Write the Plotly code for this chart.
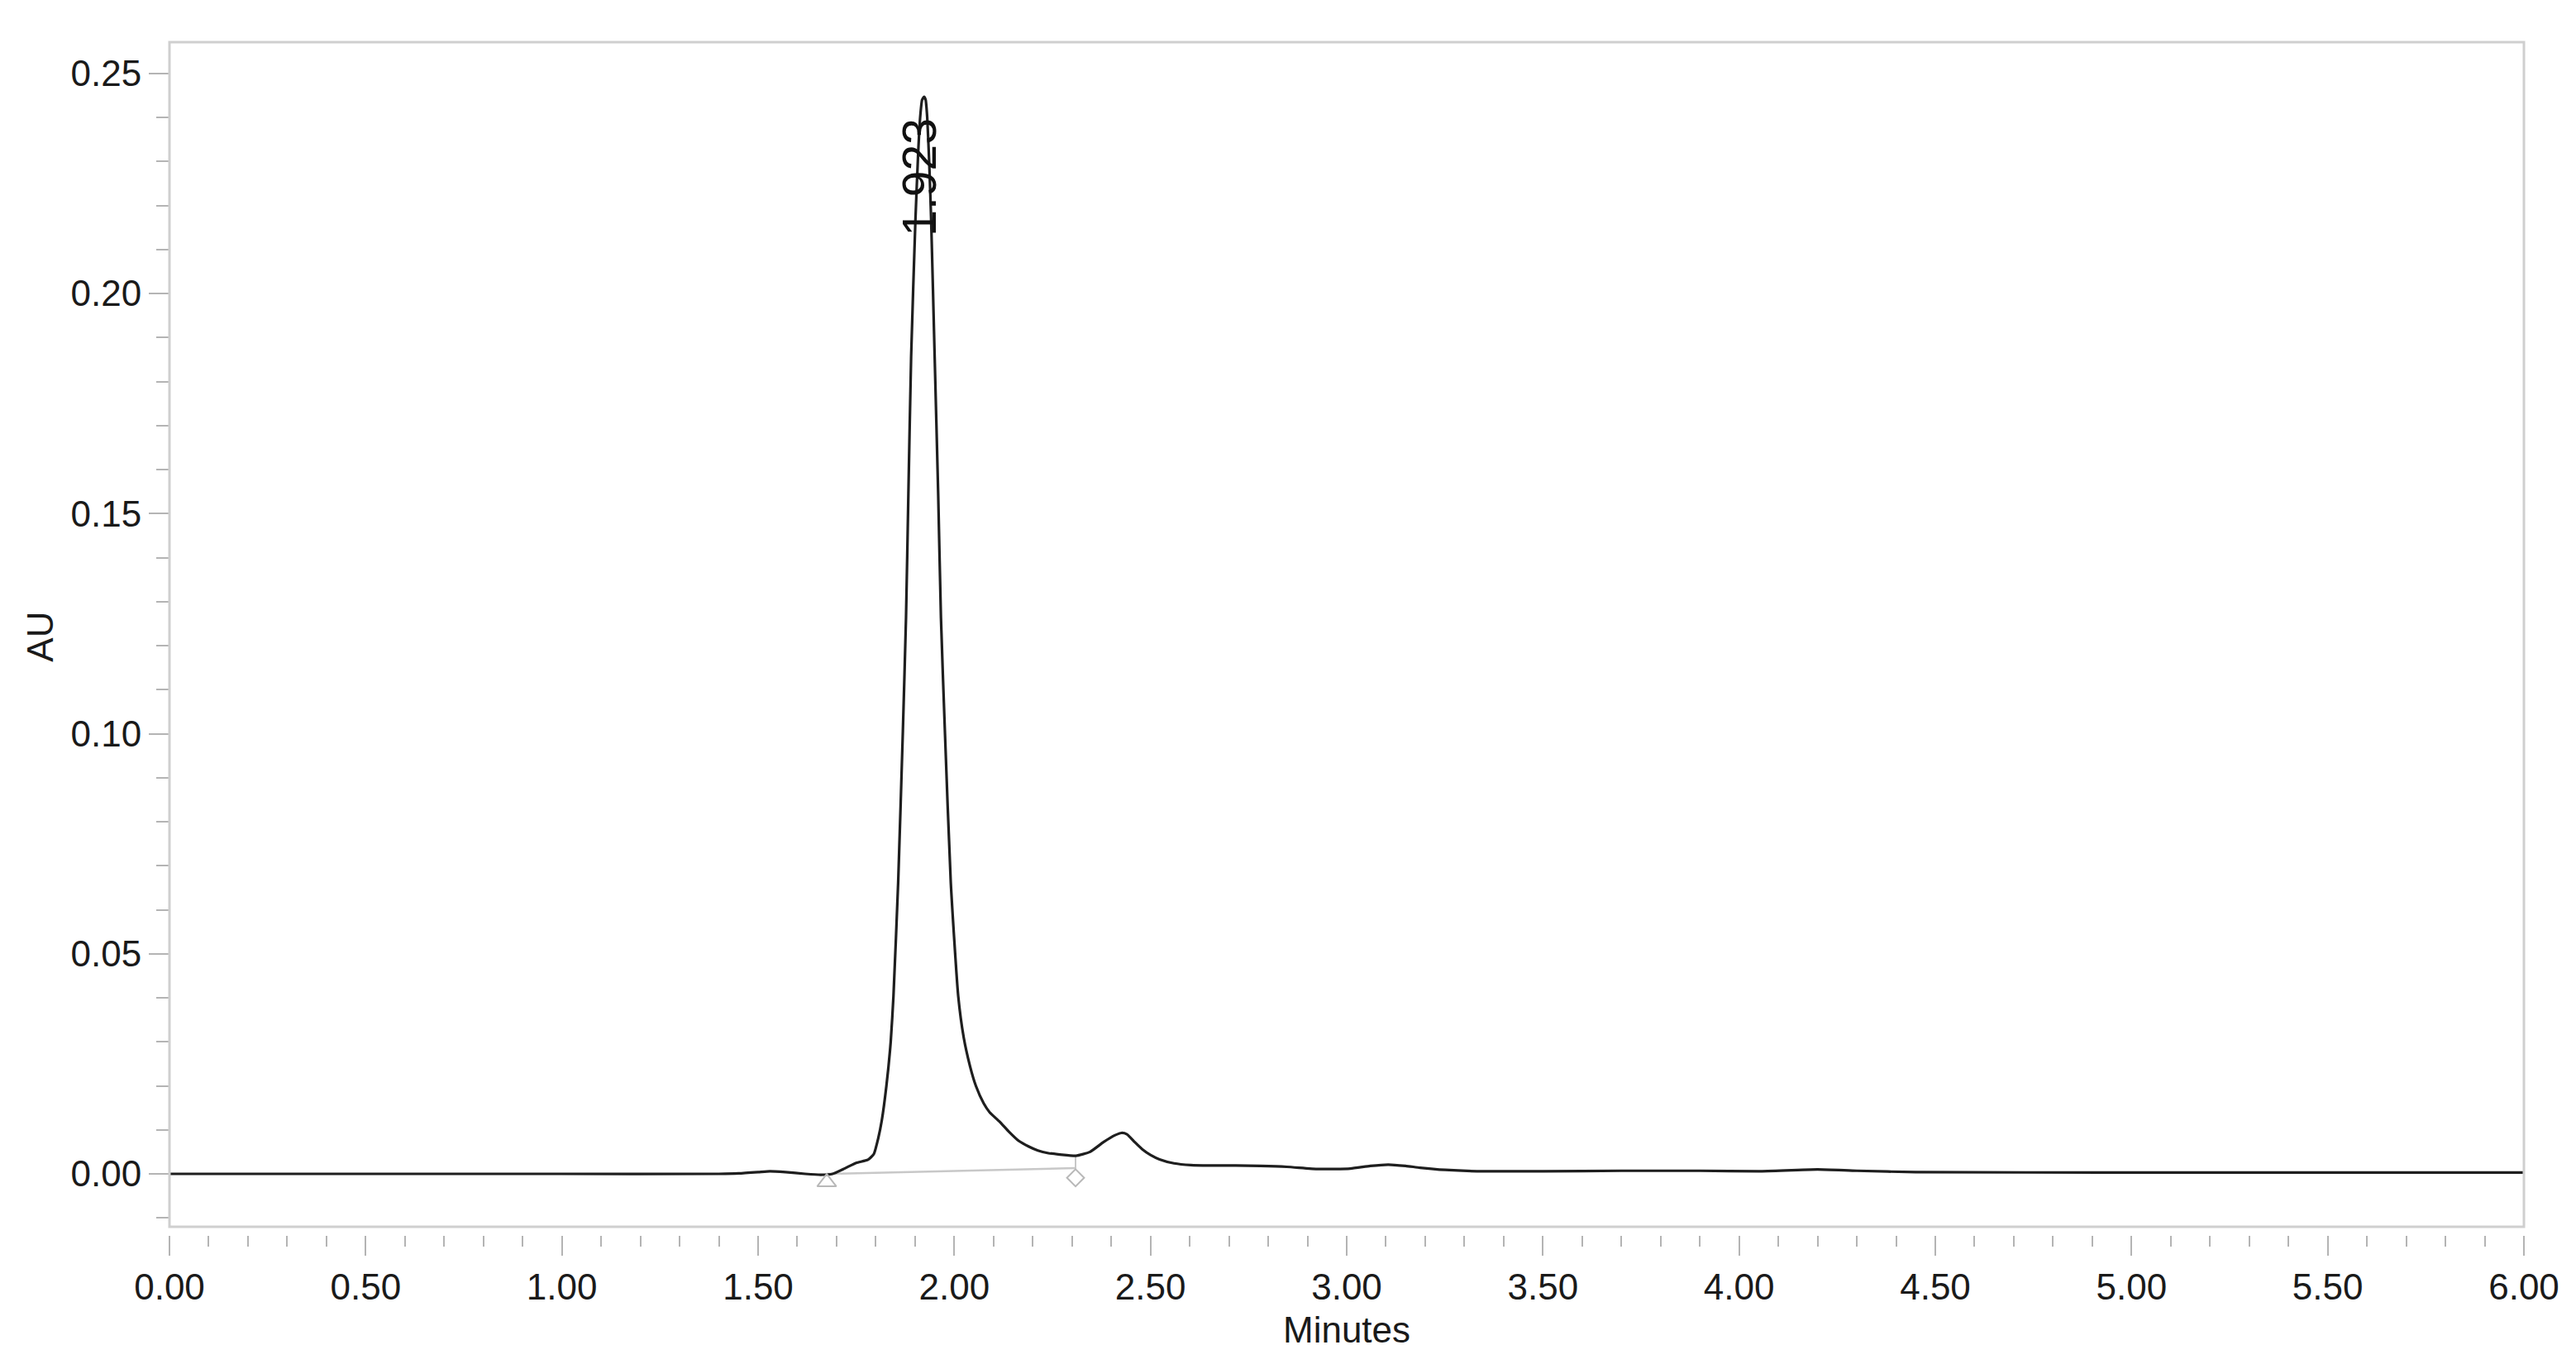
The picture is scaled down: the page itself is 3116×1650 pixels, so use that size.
import plotly.graph_objects as go

# ---- data ----
time_min = [0.00, 0.50, 1.00, 1.40, 1.45, 1.50, 1.53, 1.57, 1.62, 1.66, 1.69, 1.72, 1.75, 1.78,
            1.795, 1.806, 1.815, 1.827, 1.838, 1.845, 1.857, 1.869, 1.877, 1.883, 1.890, 1.901,
            1.908, 1.913, 1.918, 1.923, 1.927, 1.931, 1.936, 1.941, 1.950, 1.959, 1.966, 1.976,
            1.991, 2.010, 2.024, 2.040, 2.055, 2.075, 2.090, 2.115, 2.140, 2.164, 2.190, 2.213,
            2.240, 2.269, 2.310, 2.346, 2.380, 2.410, 2.426, 2.440, 2.460, 2.479, 2.500, 2.523,
            2.560, 2.603, 2.650, 2.717, 2.780, 2.847, 2.928, 3.009, 3.060, 3.106, 3.150, 3.187,
            3.251, 3.332, 3.500, 3.700, 3.900, 4.050, 4.200, 4.300, 4.450, 5.000, 5.500, 6.000]
absorbance = [0.0000, 0.0000, 0.0000, 0.0000, 0.0001, 0.0004, 0.0006, 0.0004, 0.0000, -0.0002,
              0.0000, 0.0012, 0.0025, 0.0032, 0.0045, 0.0080, 0.0120, 0.0200, 0.0300, 0.0404,
              0.0663, 0.1007, 0.1264, 0.1544, 0.1856, 0.2168, 0.2320, 0.2400, 0.2440, 0.2447,
              0.2440, 0.2400, 0.2300, 0.2168, 0.1856, 0.1544, 0.1264, 0.1007, 0.0663, 0.0404,
              0.0310, 0.0245, 0.0200, 0.0160, 0.0140, 0.0119, 0.0095, 0.0075, 0.0062, 0.0053,
              0.0047, 0.0044, 0.0041, 0.0050, 0.0072, 0.0088, 0.0093, 0.0090, 0.0072, 0.0056,
              0.0043, 0.0033, 0.0024, 0.0020, 0.0019, 0.0019, 0.0018, 0.0016, 0.0011, 0.0012,
              0.0018, 0.0021, 0.0018, 0.0014, 0.0009, 0.0006, 0.0006, 0.0007, 0.0007, 0.0006,
              0.0010, 0.0007, 0.0004, 0.0003, 0.0003, 0.0003]

peak_label = "1.923"
peak_rt = 1.923
peak_label_y = 0.2265

baseline_t = [1.675, 2.309]
baseline_au = [0.0000, 0.0013]
drop_t = [2.309, 2.309]
drop_au = [0.0040, 0.0010]
start_marker = (1.675, -0.0019)
end_marker = (2.309, -0.0009)

x_ticks = [0.0, 0.5, 1.0, 1.5, 2.0, 2.5, 3.0, 3.5, 4.0, 4.5, 5.0, 5.5, 6.0]
x_ticktext = ["0.00", "0.50", "1.00", "1.50", "2.00", "2.50", "3.00", "3.50", "4.00",
              "4.50", "5.00", "5.50", "6.00"]
y_ticks = [0.0, 0.05, 0.10, 0.15, 0.20, 0.25]
y_ticktext = ["0.00", "0.05", "0.10", "0.15", "0.20", "0.25"]

x_range = [0.0, 6.0]
y_range = [-0.01202, 0.2571]

FONT = "Liberation Sans, Arial, Helvetica, sans-serif"
TICKC = "#b4b4b4"
FRAMEC = "#cfcfcf"

# page body has an 8px margin; target plot area: x 205..3056, y 51..1484 (axis at 1494)
PAD = 8
W, H = 3116 - 2 * PAD, 1650 - 2 * PAD
ML, MT = 205 - PAD, 51 - PAD
MR = (3116 - PAD) - 3056
MB = (1650 - PAD) - 1494
plot_h = 1494 - 51
plot_w = 3056 - 205
ydom0 = 10 / plot_h

def py(p):
    return (1494 - p) / plot_h

def px(p):
    return (p - 205) / plot_w

fig = go.Figure()

# integration baseline
fig.add_trace(go.Scatter(x=baseline_t, y=baseline_au, mode="lines",
                         line=dict(color="#c8c8c8", width=2.5), hoverinfo="skip"))
fig.add_trace(go.Scatter(x=drop_t, y=drop_au, mode="lines",
                         line=dict(color="#c8c8c8", width=2), hoverinfo="skip"))

# chromatogram
fig.add_trace(go.Scatter(x=time_min, y=absorbance, mode="lines",
                         line=dict(color="#1e1e1e", width=3.2, shape="spline", smoothing=0.5)))

# peak start / end markers
fig.add_trace(go.Scatter(x=[start_marker[0]], y=[start_marker[1]], mode="markers",
                         marker=dict(symbol="triangle-up-open", size=20, color="#b8b8b8",
                                     line=dict(width=2, color="#b8b8b8")), hoverinfo="skip"))
fig.add_trace(go.Scatter(x=[end_marker[0]], y=[end_marker[1]], mode="markers",
                         marker=dict(symbol="diamond-open", size=16, color="#b8b8b8",
                                     line=dict(width=2, color="#b8b8b8")), hoverinfo="skip"))

fig.update_layout(
    width=W, height=H,
    margin=dict(l=ML, r=MR, t=MT, b=MB, pad=0),
    paper_bgcolor="white", plot_bgcolor="white",
    showlegend=False,
    font=dict(family=FONT, size=44, color="#1a1a1a"),
    xaxis=dict(range=x_range, anchor="free", position=0, showgrid=False, zeroline=False,
               showline=False, ticks="outside", tickvals=x_ticks, ticktext=x_ticktext,
               ticklen=24, tickwidth=2, tickcolor=TICKC,
               tickfont=dict(family=FONT, size=44, color="#1a1a1a"),
               minor=dict(dtick=0.1, tick0=0, ticks="outside", ticklen=13, tickwidth=2,
                          tickcolor=TICKC, showgrid=False)),
    yaxis=dict(range=y_range, domain=[ydom0, 1], showgrid=False, zeroline=False,
               showline=False, ticks="outside", tickvals=y_ticks, ticktext=y_ticktext,
               ticklen=24, tickwidth=2, tickcolor=TICKC,
               tickfont=dict(family=FONT, size=44, color="#1a1a1a"),
               minor=dict(dtick=0.01, tick0=0, ticks="outside", ticklen=15, tickwidth=2,
                          tickcolor=TICKC, showgrid=False)),
    shapes=[dict(type="rect", xref="paper", yref="paper", x0=0, x1=1, y0=ydom0, y1=1,
                 line=dict(color=FRAMEC, width=3), fillcolor="rgba(0,0,0,0)", layer="above")],
    annotations=[
        dict(text=peak_label, x=peak_rt, y=peak_label_y, xref="x", yref="y", showarrow=False,
             textangle=-90, xshift=-6, font=dict(family=FONT, size=57, color="#111111"),
             xanchor="center", yanchor="middle"),
        dict(text="Minutes", x=px(1631), y=py(1608), xref="paper", yref="paper",
             showarrow=False, xanchor="center", yanchor="middle",
             font=dict(family=FONT, size=44, color="#1a1a1a")),
        dict(text="AU", x=px(47.5), y=py(770), xref="paper", yref="paper",
             showarrow=False, textangle=-90, xanchor="center", yanchor="middle",
             font=dict(family=FONT, size=44, color="#1a1a1a")),
    ],
)

fig.write_html("out.html")
